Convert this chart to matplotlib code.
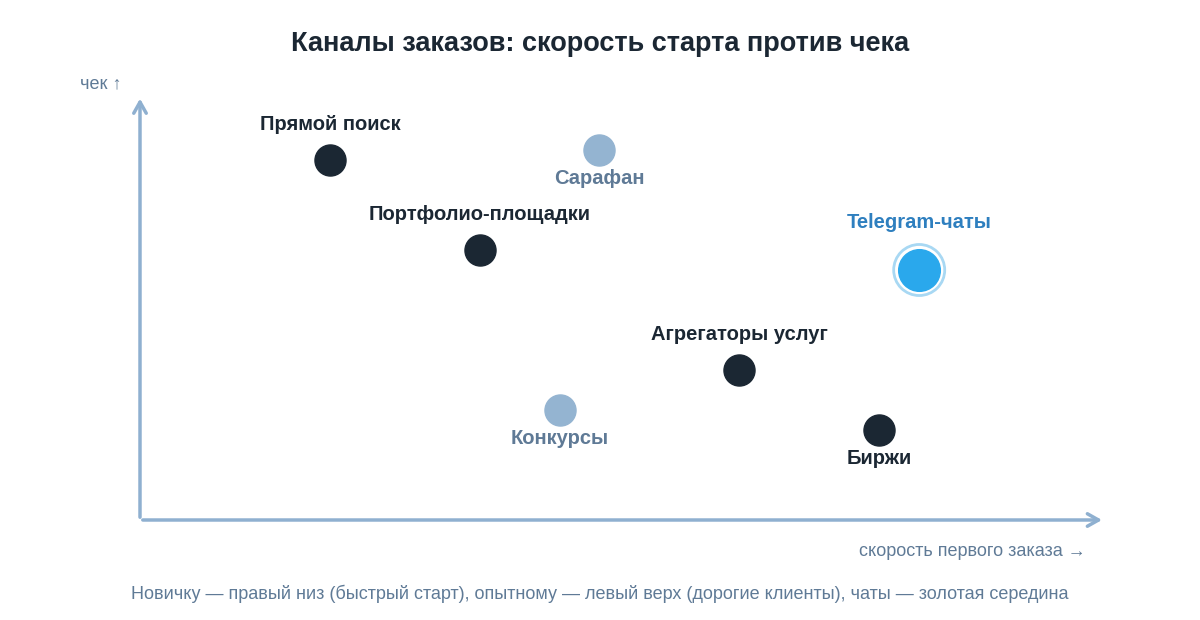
import matplotlib
matplotlib.use("Agg")
import matplotlib.pyplot as plt

names = ["Прямой поиск", "Сарафан", "Портфолио-площадки", "Telegram-чаты", "Агрегаторы услуг", "Конкурсы", "Биржи"]
speed = [2.375, 5.74, 4.25, 9.74, 7.49, 5.25, 9.24]
check = [9.0, 9.25, 6.75, 6.25, 3.75, 2.75, 2.25]
kind = ["dark", "light", "dark", "hi", "dark", "light", "dark"]
label_pos = ["above", "below", "above", "above", "above", "below", "below"]

plt.rcParams['font.family'] = ['Liberation Sans', 'DejaVu Sans']
fig = plt.figure(figsize=(12, 6.2), dpi=100)
ax = fig.add_axes([140/1200, 100/620, 960/1200, 420/620])
ax.set_xlim(0, 12)
ax.set_ylim(0, 10.5)
ax.axis('off')

axc = "#8fb0d0"
ax.annotate("", xy=(1.005, 0), xytext=(0, 0), xycoords='axes fraction',
            arrowprops=dict(arrowstyle="->,head_length=0.8,head_width=0.45", color=axc, lw=2.5), annotation_clip=False)
ax.annotate("", xy=(0, 1.01), xytext=(0, 0), xycoords='axes fraction',
            arrowprops=dict(arrowstyle="->,head_length=0.8,head_width=0.45", color=axc, lw=2.5), annotation_clip=False)

colors = {"dark": "#1b2733", "light": "#94b4d1", "hi": "#2aa8ec"}
tcolors = {"dark": "#1b2733", "light": "#5f7a96", "hi": "#2e7fbf"}
for n, x, y, k, lp in zip(names, speed, check, kind, label_pos):
    if k == "hi":
        ax.scatter([x], [y], s=1350, facecolor="none", edgecolor="#a8d8f3", lw=2, zorder=2)
        ax.scatter([x], [y], s=900, color=colors[k], zorder=3)
        off = 27
    else:
        ax.scatter([x], [y], s=500, color=colors[k], zorder=3)
        off = 19 if lp == "above" else 14
    dy = off if lp == "above" else -off
    ax.annotate(n, (x, y), xytext=(0, dy), textcoords='offset points', ha='center',
                va='bottom' if lp == "above" else 'top', fontsize=14.5, fontweight='bold',
                color=tcolors[k])

fig.text(0.5, 1-44/620, "Каналы заказов: скорость старта против чека", ha='center', va='center',
         fontsize=19.5, fontweight='bold', color="#1b2733")
fig.text(80/1200, 1-84/620, "чек ↑", ha='left', va='center', fontsize=13, color="#5f7a96")
fig.text(1086/1200, 1-552/620, "скорость первого заказа →", ha='right', va='center', fontsize=13, color="#5f7a96")
fig.text(0.5, 1-594/620, "Новичку — правый низ (быстрый старт), опытному — левый верх (дорогие клиенты), чаты — золотая середина",
         ha='center', va='center', fontsize=13, color="#5f7a96")
fig.savefig("out.png", dpi=100)
